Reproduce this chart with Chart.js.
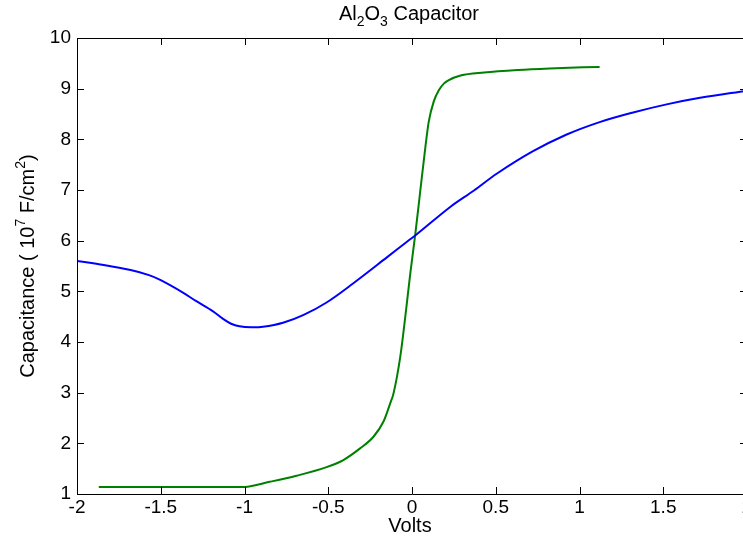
<!DOCTYPE html>
<html>
<head>
<meta charset="utf-8">
<title>Al2O3 Capacitor</title>
<script src="https://cdn.jsdelivr.net/npm/chart.js@4.4.1/dist/chart.umd.min.js"></script>
<style>
  html, body { margin: 0; padding: 0; background: #fff; overflow: hidden; }
  #wrap { width: 750px; height: 537px; }
</style>
</head>
<body>
<div id="wrap"><canvas id="capChart" width="750" height="537"></canvas></div>
<script>
const FONT = '"Liberation Sans", Arial, Helvetica, sans-serif';

const xTicks = [-2, -1.5, -1, -0.5, 0, 0.5, 1, 1.5, 2];
const yTicks = [1, 2, 3, 4, 5, 6, 7, 8, 9, 10];

// blue trace
const blueVolts = [-2, -1.84, -1.68, -1.57, -1.5, -1.37, -1.29, -1.19, -1.13, -1.08, -1.03, -0.96, -0.89, -0.77, -0.65,
                   -0.51, -0.35, -0.15, -0.03, 0.03, 0.23, 0.37, 0.51, 0.72, 0.92, 1.12, 1.32, 1.52, 1.72, 2.0];
const blueCap = [5.60, 5.52, 5.42, 5.32, 5.22, 4.98, 4.81, 4.61, 4.46, 4.36, 4.31, 4.29, 4.30, 4.38, 4.53,
                 4.78, 5.16, 5.67, 5.98, 6.13, 6.67, 6.99, 7.33, 7.76, 8.09, 8.34, 8.53, 8.69, 8.82, 8.96];

// green trace
const greenVolts = [-1.87, -1.0, -0.85, -0.69, -0.51, -0.41, -0.31, -0.23, -0.17, -0.13, -0.11, -0.07, -0.04,
                    -0.01, 0.02, 0.05, 0.08, 0.1, 0.13, 0.16, 0.19, 0.22, 0.29, 0.43, 0.63, 0.82, 1.12];
const greenCap = [1.14, 1.14, 1.24, 1.36, 1.53, 1.67, 1.90, 2.13, 2.43, 2.79, 2.99, 3.71, 4.50,
                  5.36, 6.14, 7.0, 7.85, 8.35, 8.75, 8.97, 9.1, 9.17, 9.26, 9.32, 9.37, 9.40, 9.43];

const toPoints = (xs, ys) => xs.map((x, i) => ({ x: x, y: ys[i] }));

// draws a run of text pieces, some raised or lowered, centred on (0,0)
function drawRuns(ctx, runs, size) {
    const small = Math.round(size * 0.7);
    let total = 0;
    runs.forEach(r => {
        ctx.font = (r.shift ? small : size) + 'px ' + FONT;
        r.w = ctx.measureText(r.t).width;
        total += r.w;
    });
    let x = -total / 2;
    ctx.textAlign = 'left';
    ctx.textBaseline = 'alphabetic';
    runs.forEach(r => {
        ctx.font = (r.shift ? small : size) + 'px ' + FONT;
        const dy = r.shift === 'sub' ? size * 0.3 : r.shift === 'sup' ? -size * 0.45 : 0;
        ctx.fillText(r.t, x, dy);
        x += r.w;
    });
}

const axesBox = {
    id: 'axesBox',
    afterDraw(chart) {
        const { ctx, chartArea: a, scales } = chart;
        const tick = 7;
        ctx.save();
        ctx.strokeStyle = '#000';
        ctx.lineWidth = 1;
        ctx.beginPath();
        ctx.rect(a.left + 0.5, a.top + 0.5, a.right - a.left, a.bottom - a.top);
        xTicks.forEach(v => {
            const px = Math.round(scales.x.getPixelForValue(v)) + 0.5;
            ctx.moveTo(px, a.bottom); ctx.lineTo(px, a.bottom - tick);
            ctx.moveTo(px, a.top); ctx.lineTo(px, a.top + tick);
        });
        yTicks.forEach(v => {
            const py = Math.round(scales.y.getPixelForValue(v)) + 0.5;
            ctx.moveTo(a.left, py); ctx.lineTo(a.left + tick, py);
            ctx.moveTo(a.right, py); ctx.lineTo(a.right - tick, py);
        });
        ctx.stroke();

        ctx.fillStyle = '#000';
        // title
        ctx.save();
        ctx.translate(409, 20);
        drawRuns(ctx, [{ t: 'Al' }, { t: '2', shift: 'sub' }, { t: 'O' }, { t: '3', shift: 'sub' }, { t: ' Capacitor' }], 20);
        ctx.restore();
        // x axis label
        ctx.save();
        ctx.translate(410, 532);
        drawRuns(ctx, [{ t: 'Volts' }], 20);
        ctx.restore();
        // y axis label
        ctx.save();
        ctx.translate(34, 266);
        ctx.rotate(-Math.PI / 2);
        drawRuns(ctx, [{ t: 'Capacitance ( 10' }, { t: '7', shift: 'sup' }, { t: ' F/cm' }, { t: '2', shift: 'sup' }, { t: ')' }], 20);
        ctx.restore();
        ctx.restore();
    }
};

const ctx = document.getElementById('capChart').getContext('2d');
new Chart(ctx, {
    type: 'line',
    data: {
        datasets: [
            {
                data: toPoints(blueVolts, blueCap),
                borderColor: '#0000ff',
                borderWidth: 2,
                pointRadius: 0,
                tension: 0.35
            },
            {
                data: toPoints(greenVolts, greenCap),
                borderColor: '#008000',
                borderWidth: 2,
                pointRadius: 0,
                cubicInterpolationMode: 'monotone'
            }
        ]
    },
    options: {
        responsive: false,
        animation: false,
        devicePixelRatio: 1,
        layout: { padding: { left: 0, top: 38, right: 3, bottom: 0 } },
        plugins: {
            legend: { display: false },
            title: { display: false },
            tooltip: { enabled: false }
        },
        scales: {
            x: {
                type: 'linear',
                min: -2,
                max: 2,
                // let the "2" label run off the right edge instead of shrinking the plot
                afterFit: s => { s.height = 43; s.paddingLeft = 0; s.paddingRight = 0; },
                afterBuildTicks: s => { s.ticks = xTicks.map(v => ({ value: v })); },
                grid: { display: false, drawTicks: false },
                border: { display: false },
                ticks: {
                    color: '#000',
                    padding: 2,
                    maxRotation: 0,
                    autoSkip: false,
                    font: { family: FONT, size: 19 },
                    callback: v => String(v)
                }
            },
            y: {
                min: 1,
                max: 10,
                afterFit: s => { s.width = 77; s.paddingTop = 0; s.paddingBottom = 0; },
                afterBuildTicks: s => { s.ticks = yTicks.map(v => ({ value: v })); },
                grid: { display: false, drawTicks: false },
                border: { display: false },
                ticks: {
                    color: '#000',
                    padding: 6,
                    autoSkip: false,
                    font: { family: FONT, size: 19 },
                    callback: v => String(v)
                }
            }
        }
    },
    plugins: [axesBox]
});
</script>
</body>
</html>
